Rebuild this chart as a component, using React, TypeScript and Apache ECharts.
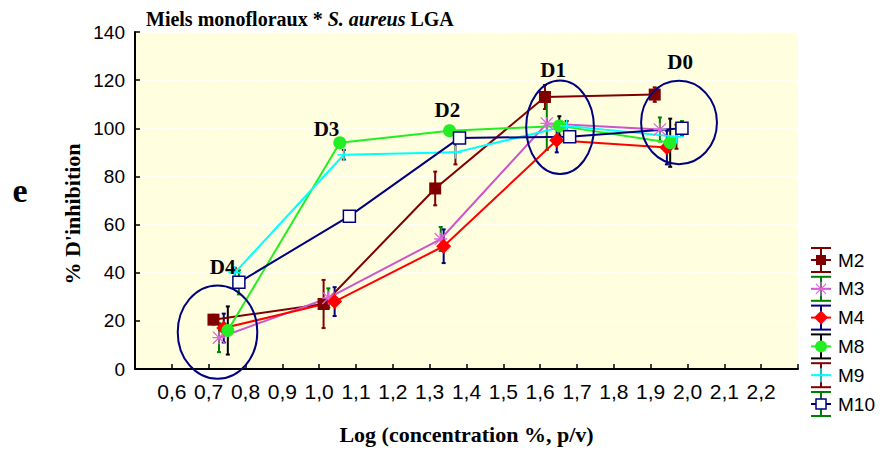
import React, { useEffect, useRef } from "react";
import * as echarts from "echarts";

// ---- data ----
const seriesNames = ["M2", "M3", "M4", "M8", "M9", "M10"];

const m2X = [0.713, 1.012, 1.315, 1.613, 1.911];
const m2Y = [20.5, 27, 75, 113, 114];
const m2Err = [2, 10, 7, 5, 3];

const m3X = [0.728, 1.025, 1.33, 1.618, 1.925];
const m3Y = [13, 29.5, 54, 102, 99.5];
const m3Err = [6, 4, 5, 11, 5];

const m4X = [0.741, 1.042, 1.338, 1.645, 1.944];
const m4Y = [17, 28, 51, 95, 92];
const m4Err = [6, 6, 7, 5, 7];

const m8X = [0.752, 1.056, 1.354, 1.652, 1.953];
const m8Y = [16, 94, 99, 101, 94];
const m8Err = [10, 1, 2, 4, 10];

const m9X = [0.771, 1.067, 1.37, 1.672, 1.97];
const m9Y = [40, 89, 90, 101, 96.5];
const m9Err = [2, 2, 5, 2, 5];

const m10X = [0.782, 1.082, 1.381, 1.68, 1.985];
const m10Y = [36, 63.5, 96, 96.5, 100];
const m10Err = [5, 1, 1, 2, 3];

const doseLabels = ["D4", "D3", "D2", "D1", "D0"];
const doseX = [0.738, 1.02, 1.348, 1.635, 1.98];
const doseY = [42.5, 99.5, 107.8, 124.3, 127.6];

// ellipses: centre x, centre y, radius x, radius y (data units)
const ellipseCx = [0.724, 1.654, 1.977];
const ellipseCy = [15.3, 100.4, 102.4];
const ellipseRx = [0.108, 0.092, 0.103];
const ellipseRy = [19.4, 19.4, 17.3];

const xTickLabels = ["0,6", "0,7", "0,8", "0,9", "1,0", "1,1", "1,2", "1,3", "1,4", "1,5", "1,6", "1,7", "1,8", "1,9", "2,0", "2,1", "2,2"];

// ---- styles ----
const PLUS = "path://M0,5.3L12,5.3L12,6.7L0,6.7Z M5.3,0L6.7,0L6.7,12L5.3,12Z";
const STAR =
  "path://M0,5.4L12,5.4L12,6.6L0,6.6Z M5.4,0L6.6,0L6.6,12L5.4,12Z M0,0.8L0.8,0L12,11.2L11.2,12Z M11.2,0L12,0.8L0.8,12L0,11.2Z";

const styles = [
  { line: "#800000", err: "#800000", symbol: "rect", fill: "#800000", border: "#800000", kind: "square", size: 12 },
  { line: "#CC55CC", err: "#008000", symbol: STAR, fill: "#DD66DD", border: "#DD66DD", kind: "star", size: 13 },
  { line: "#FF0000", err: "#000080", symbol: "diamond", fill: "#FF0000", border: "#FF0000", kind: "diamond", size: 15 },
  { line: "#22EE22", err: "#000000", symbol: "circle", fill: "#22EE22", border: "#22EE22", kind: "circle", size: 13 },
  { line: "#00FFFF", err: "#800000", symbol: PLUS, fill: "#00FFFF", border: "#00FFFF", kind: "plus", size: 13 },
  { line: "#000080", err: "#008000", symbol: "rect", fill: "#FFFFFF", border: "#000080", kind: "open", size: 12 },
];

const allX = [m2X, m3X, m4X, m8X, m9X, m10X];
const allY = [m2Y, m3Y, m4Y, m8Y, m9Y, m10Y];
const allErr = [m2Err, m3Err, m4Err, m8Err, m9Err, m10Err];

function legendMarker(kind: string, cx: number, cy: number, s: any) {
  const r = 5;
  switch (kind) {
    case "square":
      return [{ type: "rect", shape: { x: cx - r, y: cy - r, width: 2 * r, height: 2 * r }, style: { fill: s.fill } }];
    case "open":
      return [{ type: "rect", shape: { x: cx - r, y: cy - r, width: 2 * r, height: 2 * r }, style: { fill: "#fff", stroke: s.border, lineWidth: 1.5 } }];
    case "diamond":
      return [{ type: "polygon", shape: { points: [[cx, cy - 7], [cx + 7, cy], [cx, cy + 7], [cx - 7, cy]] }, style: { fill: s.fill } }];
    case "circle":
      return [{ type: "circle", shape: { cx, cy, r: 6 }, style: { fill: s.fill } }];
    case "plus":
      return [
        { type: "line", shape: { x1: cx - 7, y1: cy, x2: cx + 7, y2: cy }, style: { stroke: s.fill, lineWidth: 1.5 } },
        { type: "line", shape: { x1: cx, y1: cy - 7, x2: cx, y2: cy + 7 }, style: { stroke: s.fill, lineWidth: 1.5 } },
      ];
    default:
      return [
        { type: "line", shape: { x1: cx - 7, y1: cy, x2: cx + 7, y2: cy }, style: { stroke: s.fill, lineWidth: 1.2 } },
        { type: "line", shape: { x1: cx, y1: cy - 7, x2: cx, y2: cy + 7 }, style: { stroke: s.fill, lineWidth: 1.2 } },
        { type: "line", shape: { x1: cx - 5, y1: cy - 5, x2: cx + 5, y2: cy + 5 }, style: { stroke: s.fill, lineWidth: 1.2 } },
        { type: "line", shape: { x1: cx - 5, y1: cy + 5, x2: cx + 5, y2: cy - 5 }, style: { stroke: s.fill, lineWidth: 1.2 } },
      ];
  }
}

export default function App() {
  const ref = useRef<HTMLDivElement>(null);

  useEffect(() => {
    if (!ref.current) return;
    const chart = echarts.init(ref.current, null, { renderer: "svg" });

    const series: any[] = [];

    // error bars
    seriesNames.forEach((name, i) => {
      const s = styles[i];
      series.push({
        type: "custom",
        name: name + "-err",
        z: 1,
        silent: true,
        encode: { x: 0, y: 1 },
        data: allX[i].map((x, k) => [x, allY[i][k], allErr[i][k]]),
        renderItem: (_p: any, api: any) => {
          const x = api.value(0);
          const y = api.value(1);
          const e = api.value(2);
          const top = api.coord([x, y + e]);
          const bot = api.coord([x, y - e]);
          const c = 2;
          const st = { stroke: s.err, lineWidth: 2 };
          return {
            type: "group",
            children: [
              { type: "line", shape: { x1: top[0], y1: top[1], x2: bot[0], y2: bot[1] }, style: st },
              { type: "line", shape: { x1: top[0] - c, y1: top[1], x2: top[0] + c, y2: top[1] }, style: st },
              { type: "line", shape: { x1: bot[0] - c, y1: bot[1], x2: bot[0] + c, y2: bot[1] }, style: st },
            ],
          };
        },
      });
    });

    // lines with markers
    seriesNames.forEach((name, i) => {
      const s = styles[i];
      series.push({
        type: "line",
        name,
        z: 2,
        data: allX[i].map((x, k) => [x, allY[i][k]]),
        symbol: s.symbol,
        symbolSize: s.size,
        showAllSymbol: true,
        lineStyle: { color: s.line, width: 2 },
        itemStyle: {
          color: s.fill,
          borderColor: s.border,
          borderWidth: s.kind === "open" ? 1.5 : 0,
          opacity: 1,
        },
      });
    });

    // ellipses
    series.push({
      type: "custom",
      name: "ellipses",
      z: 4,
      silent: true,
      clip: false,
      encode: { x: 0, y: 1 },
      data: ellipseCx.map((cx, k) => [cx, ellipseCy[k], ellipseRx[k], ellipseRy[k]]),
      renderItem: (_p: any, api: any) => {
        const c = api.coord([api.value(0), api.value(1)]);
        const sz = api.size([api.value(2), api.value(3)]);
        return {
          type: "ellipse",
          shape: { cx: c[0], cy: c[1], rx: sz[0], ry: sz[1] },
          style: { fill: "none", stroke: "#000080", lineWidth: 2 },
        };
      },
    });

    // dose labels
    series.push({
      type: "custom",
      name: "doses",
      z: 5,
      silent: true,
      clip: false,
      encode: { x: 0, y: 1 },
      data: doseX.map((x, k) => [x, doseY[k], k]),
      renderItem: (_p: any, api: any) => {
        const c = api.coord([api.value(0), api.value(1)]);
        return {
          type: "text",
          x: c[0],
          y: c[1],
          style: {
            text: doseLabels[api.value(2)],
            font: 'bold 21px "Liberation Serif"',
            fill: "#000",
            align: "center",
            verticalAlign: "middle",
          },
        };
      },
    });

    // legend graphic
    const legend: any[] = [];
    seriesNames.forEach((name, i) => {
      const s = styles[i];
      const y = 260 + i * 28.8;
      const cx = 821;
      legend.push(
        { type: "line", shape: { x1: cx - 10, y1: y, x2: cx + 10, y2: y }, style: { stroke: s.line, lineWidth: 2 } },
        { type: "line", shape: { x1: cx, y1: y - 12, x2: cx, y2: y + 12 }, style: { stroke: s.err, lineWidth: 2 } },
        { type: "line", shape: { x1: cx - 10, y1: y - 12, x2: cx + 10, y2: y - 12 }, style: { stroke: s.err, lineWidth: 2 } },
        { type: "line", shape: { x1: cx - 10, y1: y + 12, x2: cx + 10, y2: y + 12 }, style: { stroke: s.err, lineWidth: 2 } },
        ...legendMarker(s.kind, cx, y, s),
        {
          type: "text",
          x: 838,
          y,
          style: { text: name, font: '19px "Liberation Sans"', fill: "#000", verticalAlign: "middle" },
        }
      );
    });

    const option: any = {
      animation: false,
      backgroundColor: "#ffffff",
      grid: {
        left: 135,
        right: 82,
        top: 32,
        bottom: 79,
        show: true,
        backgroundColor: "#FFFFE0",
        borderWidth: 0,
      },
      xAxis: {
        type: "value",
        min: 0.5,
        max: 2.3,
        interval: 0.1,
        axisLine: { show: true, lineStyle: { color: "#000", width: 2 } },
        axisTick: { show: true, inside: true, length: 5, lineStyle: { color: "#000", width: 1.5 } },
        splitLine: { show: false },
        axisLabel: {
          color: "#000",
          fontFamily: "Liberation Sans",
          fontSize: 21,
          margin: 12,
          formatter: (v: number) => {
            const k = Math.round((v - 0.6) * 10);
            return k >= 0 && k < xTickLabels.length ? xTickLabels[k] : "";
          },
        },
        name: "Log (concentration %, p/v)",
        nameLocation: "middle",
        nameGap: 54,
        nameTextStyle: { fontFamily: "Liberation Serif", fontWeight: "bold", fontSize: 22, color: "#000" },
      },
      yAxis: {
        type: "value",
        min: 0,
        max: 140,
        interval: 20,
        axisLine: { show: true, lineStyle: { color: "#000", width: 2 } },
        axisTick: { show: true, inside: true, length: 5, lineStyle: { color: "#000", width: 1.5 } },
        splitLine: { show: true, lineStyle: { color: "#FFFFFF", width: 1, type: "dashed" } },
        axisLabel: { color: "#000", fontFamily: "Liberation Sans", fontSize: 19, margin: 10 },
      },
      graphic: [
        {
          type: "text",
          x: 146,
          y: 19,
          style: {
            text: "{b|Miels monofloraux * }{i|S. aureus}{b| LGA}",
            verticalAlign: "middle",
            rich: {
              b: { font: 'bold 20px "Liberation Serif"', fill: "#000" },
              i: { font: 'italic bold 20px "Liberation Serif"', fill: "#000" },
            },
          },
        },
        {
          type: "text",
          x: 20,
          y: 190,
          style: { text: "e", font: 'bold 34px "Liberation Serif"', fill: "#000", align: "center", verticalAlign: "middle" },
        },
        {
          type: "text",
          x: 72,
          y: 214,
          rotation: Math.PI / 2,
          style: {
            text: "% D'inhibition",
            font: 'bold 22px "Liberation Serif"',
            fill: "#000",
            align: "center",
            verticalAlign: "middle",
          },
        },
        ...legend,
      ],
      series,
    };

    chart.setOption(option);
    return () => chart.dispose();
  }, []);

  return <div ref={ref} style={{ position: "fixed", left: 0, top: 0, width: 880, height: 450 }} />;
}
